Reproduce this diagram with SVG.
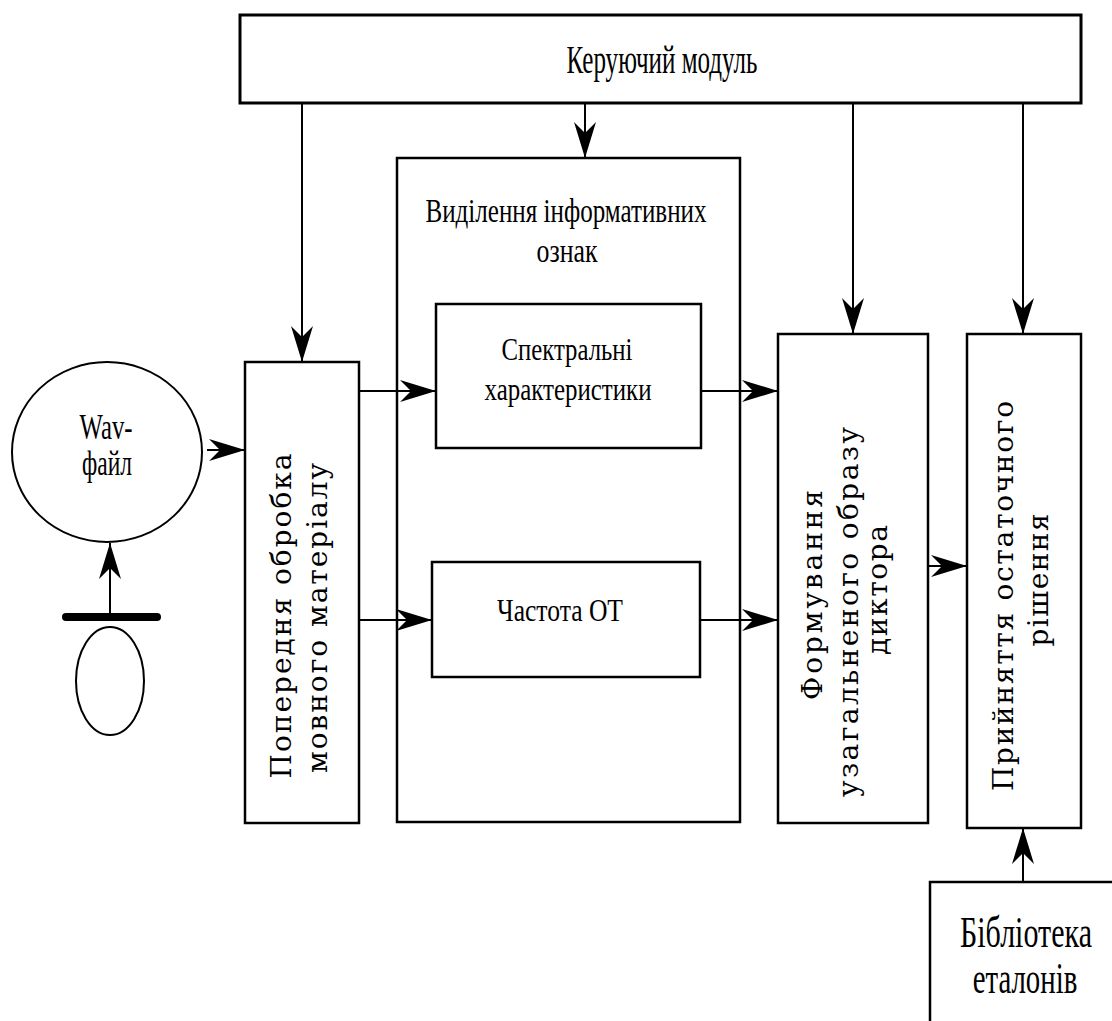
<svg xmlns="http://www.w3.org/2000/svg" width="1112" height="1021" viewBox="0 0 1112 1021">
<defs>
<marker id="ah" markerUnits="userSpaceOnUse" markerWidth="40" markerHeight="26" refX="36" refY="12" orient="auto">
<path d="M0,1 L36,12 L0,23 L11,12 Z" fill="#000"/>
</marker>
<style>
.box{fill:#fff;stroke:#000;stroke-width:2.5}
.ln{fill:none;stroke:#000;stroke-width:2;marker-end:url(#ah)}
.t{fill:#000;text-anchor:middle;font-family:'Liberation Serif','Times New Roman',serif}
.v{fill:#000;text-anchor:middle;font-family:'DejaVu Serif',serif}
</style>
</defs>
<rect width="1112" height="1021" fill="#fff"/>
<g id="control">
<rect class="box" x="240" y="15" width="841" height="88" style="stroke-width:3"/>
<text class="t" font-size="40" x="662" y="73" textLength="191" lengthAdjust="spacingAndGlyphs">Керуючий модуль</text>
</g>
<g id="features">
<rect class="box" x="397" y="158" width="343" height="664"/>
<text class="t" font-size="33" x="566" y="222" textLength="281" lengthAdjust="spacingAndGlyphs">Виділення інформативних</text>
<text class="t" font-size="33" x="567" y="262" textLength="61" lengthAdjust="spacingAndGlyphs">ознак</text>
</g>
<g id="spectral">
<rect class="box" x="436" y="304" width="265" height="144"/>
<text class="t" font-size="32" x="567" y="360" textLength="131" lengthAdjust="spacingAndGlyphs">Спектральні</text>
<text class="t" font-size="32" x="568" y="400" textLength="167" lengthAdjust="spacingAndGlyphs">характеристики</text>
</g>
<g id="pitch">
<rect class="box" x="432" y="562" width="268" height="115"/>
<text class="t" font-size="32" x="560" y="621" textLength="126" lengthAdjust="spacingAndGlyphs">Частота ОТ</text>
</g>
<g id="wav">
<ellipse class="box" cx="107" cy="452" rx="95" ry="90" style="stroke-width:2"/>
<text class="t" font-size="36" x="106" y="439" textLength="53" lengthAdjust="spacingAndGlyphs">Wav-</text>
<text class="t" font-size="36" x="107" y="475" textLength="50" lengthAdjust="spacingAndGlyphs">файл</text>
</g>
<g id="mic">
<line x1="66" y1="617" x2="157" y2="617" stroke="#000" stroke-width="8" stroke-linecap="round"/>
<ellipse class="box" cx="110" cy="681" rx="34" ry="54" style="stroke-width:2"/>
</g>
<g id="preproc">
<rect class="box" x="245" y="362" width="114" height="461"/>
<text class="v" font-size="28" transform="translate(291,616) rotate(-90)" textLength="325" lengthAdjust="spacing">Попередня обробка</text>
<text class="v" font-size="28" transform="translate(327,618) rotate(-90)" textLength="310" lengthAdjust="spacing">мовного матеріалу</text>
</g>
<g id="forming">
<rect class="box" x="778" y="334" width="150" height="489"/>
<text class="v" font-size="28" transform="translate(822,595) rotate(-90)" textLength="210" lengthAdjust="spacing">Формування</text>
<text class="v" font-size="28" transform="translate(858,612) rotate(-90)" textLength="370" lengthAdjust="spacing">узагальненого образу</text>
<text class="v" font-size="28" transform="translate(887,590) rotate(-90)" textLength="130" lengthAdjust="spacing">диктора</text>
</g>
<g id="decision">
<rect class="box" x="967" y="334" width="114" height="494"/>
<text class="v" font-size="28" transform="translate(1013,596) rotate(-90)" textLength="390" lengthAdjust="spacing">Прийняття остаточного</text>
<text class="v" font-size="28" transform="translate(1048,580) rotate(-90)" textLength="133" lengthAdjust="spacing">рішення</text>
</g>
<g id="library">
<path d="M1112,882 H930 V1021" fill="none" stroke="#000" stroke-width="2.5"/>
<text class="t" font-size="44" transform="translate(1026,947) scale(0.68,1)" textLength="194" lengthAdjust="spacingAndGlyphs">Бібліотека</text>
<text class="t" font-size="44" transform="translate(1025,993) scale(0.68,1)" textLength="154" lengthAdjust="spacingAndGlyphs">еталонів</text>
</g>
<g id="connectors">
<line class="ln" x1="302" y1="103" x2="302" y2="362"/>
<line class="ln" x1="585" y1="103" x2="585" y2="158"/>
<line class="ln" x1="853" y1="103" x2="853" y2="334"/>
<line class="ln" x1="1023" y1="103" x2="1023" y2="334"/>
<line class="ln" x1="207" y1="450" x2="245" y2="450"/>
<line class="ln" x1="110" y1="617" x2="110" y2="543"/>
<line class="ln" x1="359" y1="391" x2="436" y2="391"/>
<line class="ln" x1="359" y1="620" x2="432" y2="620"/>
<line class="ln" x1="701" y1="391" x2="778" y2="391"/>
<line class="ln" x1="700" y1="620" x2="778" y2="620"/>
<line class="ln" x1="928" y1="566" x2="967" y2="566"/>
<line class="ln" x1="1023" y1="882" x2="1023" y2="828"/>
</g>
</svg>
